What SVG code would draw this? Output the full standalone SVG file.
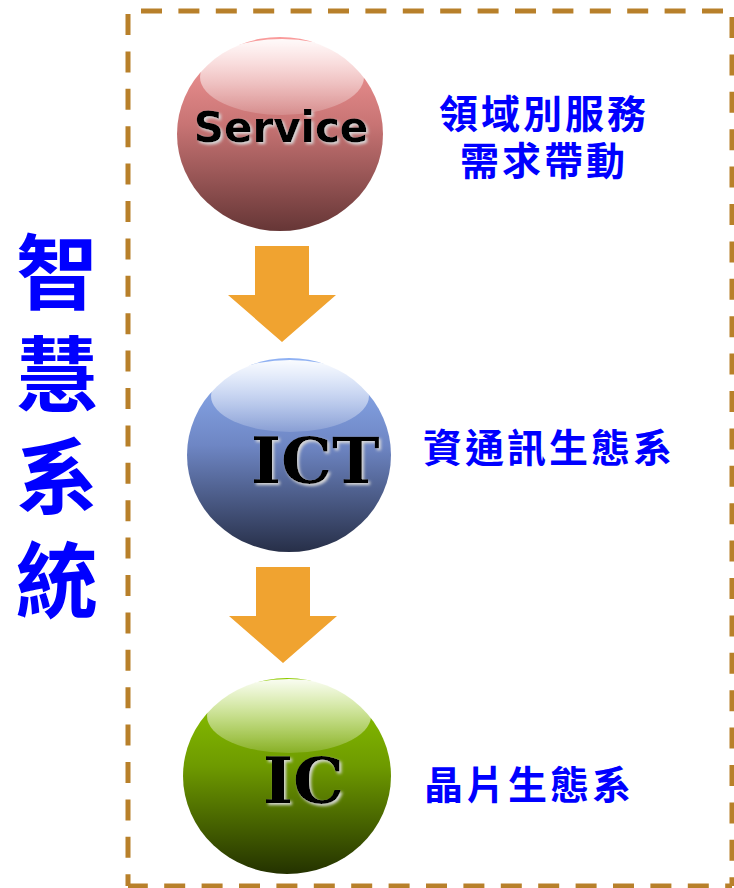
<svg xmlns="http://www.w3.org/2000/svg" width="734" height="888" viewBox="0 0 734 888">
<defs>
<linearGradient id="gS" x1="0" y1="0" x2="0" y2="1"><stop offset="0" stop-color="#FA9C9C"/><stop offset="0.45" stop-color="#C87474"/><stop offset="1" stop-color="#663636"/></linearGradient>
<linearGradient id="gI" x1="0" y1="0" x2="0" y2="1"><stop offset="0" stop-color="#90B2F4"/><stop offset="0.45" stop-color="#6E86C4"/><stop offset="1" stop-color="#272F48"/></linearGradient>
<linearGradient id="gC" x1="0" y1="0" x2="0" y2="1"><stop offset="0" stop-color="#8FCB00"/><stop offset="0.45" stop-color="#6E9A00"/><stop offset="1" stop-color="#243200"/></linearGradient>
<linearGradient id="hl" x1="0" y1="0" x2="0" y2="1"><stop offset="0" stop-color="#FFFFFF" stop-opacity="0.95"/><stop offset="1" stop-color="#FFFFFF" stop-opacity="0.15"/></linearGradient>
<filter id="sh" x="-10%" y="-20%" width="130%" height="150%"><feDropShadow dx="2" dy="2" stdDeviation="1.5" flood-color="#D8D8D8" flood-opacity="1"/></filter>
</defs>
<style>
.bd{stroke:#B8802A;stroke-width:5;stroke-dasharray:21 16.4;fill:none}
.cj{font-family:"Noto Sans CJK TC","Noto Sans CJK SC",sans-serif;font-weight:bold;fill:#0000FF}
.lb{font-size:39px;letter-spacing:3px}
.arr{fill:#F0A330}
</style>
<g id="border">
<line class="bd" x1="128" y1="11" x2="732" y2="11" stroke-dashoffset="24.4"/>
<line class="bd" x1="128" y1="11" x2="128" y2="886" stroke-dashoffset="34.4"/>
<line class="bd" x1="732" y1="11" x2="732" y2="886" stroke-dashoffset="31.4"/>
<line class="bd" x1="128" y1="886" x2="732" y2="886" stroke-dashoffset="1.2"/>
</g>
<g id="title">
<text class="cj" font-size="82" text-anchor="middle"><tspan x="57" y="303">智</tspan><tspan x="57" y="405">慧</tspan><tspan x="57" y="507">系</tspan><tspan x="57" y="611">統</tspan></text>
</g>
<g id="connectors">
<polygon class="arr" points="255,246 309,246 309,295 336,295 282,342 228,295 255,295"/>
<polygon class="arr" points="256,567 310,567 310,616 337,616 283,663 229,616 256,616"/>
</g>
<g id="service">
<ellipse cx="280" cy="134" rx="103" ry="97" fill="url(#gS)"/>
<ellipse cx="282" cy="77" rx="82" ry="38" fill="url(#hl)"/>
<text x="281" y="142" text-anchor="middle" font-family="DejaVu Sans, sans-serif" font-weight="bold" font-size="42" fill="#000" filter="url(#sh)">Service</text>
</g>
<g id="ict">
<ellipse cx="289" cy="455" rx="102" ry="97" fill="url(#gI)"/>
<ellipse cx="290" cy="396" rx="79" ry="36" fill="url(#hl)"/>
<text x="251" y="483" font-family="DejaVu Serif, serif" font-weight="bold" font-size="64" fill="#000" filter="url(#sh)">ICT</text>
</g>
<g id="ic">
<ellipse cx="287" cy="776" rx="104" ry="98" fill="url(#gC)"/>
<ellipse cx="289" cy="716" rx="82" ry="37" fill="url(#hl)"/>
<text x="263" y="803" font-family="DejaVu Serif, serif" font-weight="bold" font-size="64" fill="#000" filter="url(#sh)">IC</text>
</g>
<g id="labels" class="cj lb">
<text text-anchor="middle"><tspan x="544" y="128">領域別服務</tspan><tspan x="544" y="175">需求帶動</tspan></text>
<text x="423" y="462">資通訊生態系</text>
<text x="424" y="799">晶片生態系</text>
</g>
</svg>
